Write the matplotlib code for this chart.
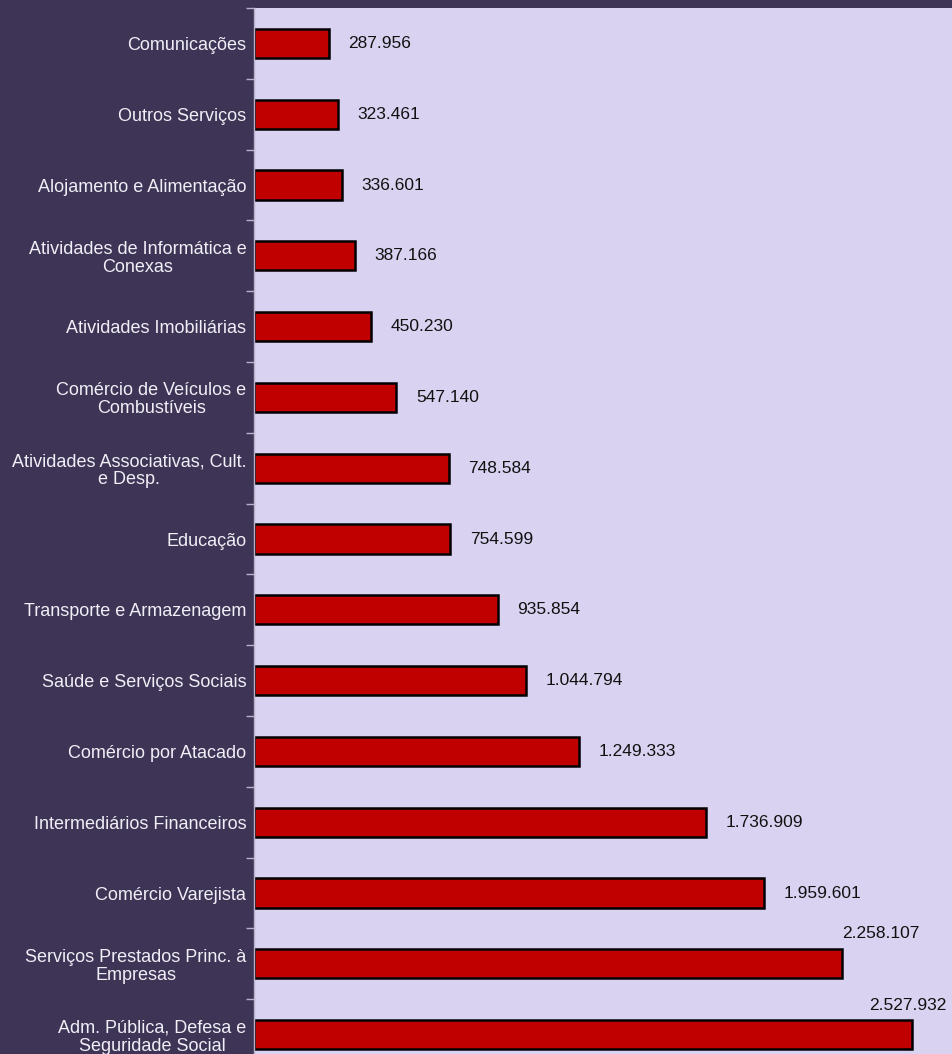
#!/usr/bin/env python3
import matplotlib
matplotlib.use('Agg')
import matplotlib.pyplot as plt
import numpy as np

plt.rcParams['font.family'] = ['Liberation Sans', 'DejaVu Sans']

# data
categories = ['Comunicações', 'Outros Serviços', 'Alojamento e Alimentação',
              'Atividades de Informática e\nConexas', 'Atividades Imobiliárias',
              'Comércio de Veículos e\nCombustíveis',
              'Atividades Associativas, Cult.\ne Desp.', 'Educação',
              'Transporte e Armazenagem', 'Saúde e Serviços Sociais',
              'Comércio por Atacado', 'Intermediários Financeiros',
              'Comércio Varejista', 'Serviços Prestados Princ. à\nEmpresas',
              'Adm. Pública, Defesa e\nSeguridade Social']
values = [287956, 323461, 336601, 387166, 450230, 547140, 748584, 754599,
          935854, 1044794, 1249333, 1736909, 1959601, 2258107, 2527932]
labels = ['287.956', '323.461', '336.601', '387.166', '450.230', '547.140',
          '748.584', '754.599', '935.854', '1.044.794', '1.249.333',
          '1.736.909', '1.959.601', '2.258.107', '2.527.932']

fig = plt.figure(figsize=(9.53, 10.54), dpi=100)
fig.patch.set_facecolor('#3E3556')
ax = fig.add_axes([254/953, -16/1054, 1 - 254/953, 1062/1054])
ax.set_facecolor('#D9D3F1')

y = np.arange(len(categories))
ax.barh(y, values, height=0.41, color='#C00000', edgecolor='black', linewidth=1.8)

ax.set_xlim(0, 2686000)
ax.set_ylim(len(categories) - 0.5, -0.5)

# value labels
for i, (v, lab) in enumerate(zip(values, labels)):
    if i < 13:
        ax.annotate(lab, (v, i), xytext=(14, 0), textcoords='offset points',
                    va='center', ha='left', fontsize=12.5, color='#111111')
    elif i == 13:
        ax.annotate(lab, (v, i), xytext=(0, 22), textcoords='offset points',
                    va='center', ha='left', fontsize=12.5, color='#111111')
    else:
        ax.annotate(lab, (v, i), xytext=(-31, 21), textcoords='offset points',
                    va='center', ha='left', fontsize=12.5, color='#111111')

ax.set_yticks(y)
ax.set_yticklabels(categories, fontsize=13, color='#F0EEF6')
ax.tick_params(axis='y', length=0, pad=5.5)
for t in ax.get_yticklabels():
    t.set_multialignment('center')
    t.set_linespacing(1.08)
ax.set_yticks(np.arange(len(categories) + 1) - 0.5, minor=True)
ax.tick_params(axis='y', which='minor', length=6, color='#B8B0CC', width=1)
ax.set_xticks([])

for s in ['top', 'right', 'bottom']:
    ax.spines[s].set_visible(False)
ax.spines['left'].set_color('#B8B0CC')
ax.spines['left'].set_linewidth(1)

fig.savefig('out.png', dpi=100, facecolor=fig.get_facecolor())
